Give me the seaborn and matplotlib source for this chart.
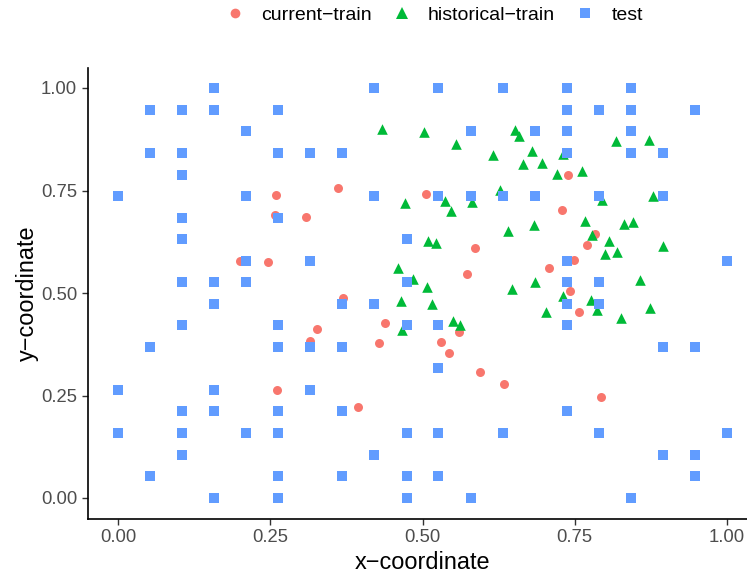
import matplotlib
matplotlib.use("Agg")
import matplotlib.pyplot as plt
from matplotlib.lines import Line2D
import pandas as pd
import seaborn as sns

# test points (regular grid)
test_x = [0.000, 0.000, 0.000,
          0.053, 0.053, 0.053, 0.053,
          0.105, 0.105, 0.105, 0.105, 0.105, 0.105, 0.105, 0.105, 0.105, 0.105,
          0.158, 0.158, 0.158, 0.158, 0.158, 0.158, 0.158,
          0.211, 0.211, 0.211, 0.211, 0.211,
          0.263, 0.263, 0.263, 0.263, 0.263, 0.263, 0.263, 0.263, 0.263,
          0.316, 0.316, 0.316, 0.316,
          0.368, 0.368, 0.368, 0.368, 0.368,
          0.421, 0.421, 0.421, 0.421,
          0.474, 0.474, 0.474, 0.474, 0.474, 0.474,
          0.526, 0.526, 0.526, 0.526, 0.526, 0.526,
          0.579, 0.579, 0.579,
          0.632, 0.632, 0.632,
          0.684, 0.684,
          0.737, 0.737, 0.737, 0.737, 0.737, 0.737, 0.737, 0.737, 0.737,
          0.789, 0.789, 0.789, 0.789, 0.789,
          0.842, 0.842, 0.842, 0.842, 0.842,
          0.895, 0.895, 0.895, 0.895,
          0.947, 0.947, 0.947, 0.947,
          1.000, 1.000]
test_y = [0.737, 0.263, 0.158,
          0.947, 0.842, 0.368, 0.053,
          0.947, 0.842, 0.789, 0.684, 0.632, 0.526, 0.421, 0.211, 0.158, 0.105,
          1.000, 0.947, 0.526, 0.474, 0.263, 0.211, 0.000,
          0.895, 0.737, 0.579, 0.526, 0.158,
          0.947, 0.842, 0.684, 0.421, 0.368, 0.211, 0.158, 0.053, 0.000,
          0.842, 0.579, 0.368, 0.263,
          0.842, 0.474, 0.368, 0.211, 0.053,
          1.000, 0.737, 0.474, 0.105,
          0.632, 0.526, 0.421, 0.158, 0.053, 0.000,
          1.000, 0.737, 0.421, 0.316, 0.158, 0.053,
          0.895, 0.737, 0.000,
          1.000, 0.737, 0.158,
          0.895, 0.737,
          1.000, 0.947, 0.895, 0.842, 0.579, 0.526, 0.474, 0.421, 0.211,
          0.947, 0.737, 0.526, 0.474, 0.158,
          1.000, 0.947, 0.895, 0.842, 0.000,
          0.842, 0.737, 0.368, 0.105,
          0.947, 0.368, 0.105, 0.053,
          0.579, 0.158]

# current training points
cur_x = [0.200, 0.246, 0.259, 0.258, 0.309, 0.361, 0.369, 0.327, 0.315, 0.429,
         0.438, 0.261, 0.394, 0.506, 0.586, 0.573, 0.560, 0.530, 0.544, 0.594,
         0.634, 0.739, 0.729, 0.708, 0.749, 0.742, 0.757, 0.783, 0.770, 0.793]
cur_y = [0.578, 0.576, 0.739, 0.690, 0.685, 0.756, 0.488, 0.412, 0.383, 0.378,
         0.427, 0.263, 0.222, 0.741, 0.610, 0.546, 0.405, 0.380, 0.354, 0.307,
         0.278, 0.788, 0.702, 0.561, 0.580, 0.505, 0.454, 0.644, 0.617, 0.246]

# historical training points
hist_x = [0.433, 0.502, 0.471, 0.555, 0.652, 0.658, 0.616, 0.680, 0.665, 0.696,
          0.721, 0.731, 0.762, 0.627, 0.537, 0.581, 0.547, 0.640, 0.683, 0.818,
          0.872, 0.795, 0.878, 0.767, 0.831, 0.846, 0.778, 0.806, 0.800, 0.819,
          0.895, 0.857, 0.777, 0.787, 0.874, 0.826, 0.509, 0.522, 0.460, 0.484,
          0.465, 0.466, 0.507, 0.516, 0.550, 0.562, 0.647, 0.685, 0.731, 0.703]
hist_y = [0.900, 0.893, 0.720, 0.863, 0.898, 0.883, 0.837, 0.846, 0.815, 0.817,
          0.790, 0.839, 0.798, 0.751, 0.724, 0.722, 0.700, 0.651, 0.666, 0.871,
          0.873, 0.727, 0.737, 0.676, 0.668, 0.673, 0.641, 0.627, 0.595, 0.600,
          0.615, 0.532, 0.483, 0.459, 0.463, 0.439, 0.627, 0.622, 0.561, 0.534,
          0.480, 0.410, 0.515, 0.473, 0.432, 0.422, 0.510, 0.527, 0.493, 0.454]

groups = ["current\u2212train", "historical\u2212train", "test"]
colors = ["#F8766D", "#00BA38", "#619CFF"]
markers = ["o", "^", "s"]

df = pd.concat([
    pd.DataFrame({"x": cur_x, "y": cur_y, "set": groups[0]}),
    pd.DataFrame({"x": hist_x, "y": hist_y, "set": groups[1]}),
    pd.DataFrame({"x": test_x, "y": test_y, "set": groups[2]}),
])

sns.set_style("white")
plt.rcParams["font.family"] = ["Liberation Sans", "DejaVu Sans"]

fig = plt.figure(figsize=(7.47, 5.76), dpi=100)
W, H = 747, 576
ax = fig.add_axes([87.5 / W, 57.5 / H, 670 / W, 451 / H])

sizes = {groups[0]: 42, groups[1]: 58, groups[2]: 44}
for g, c, m in zip(groups, colors, markers):
    sub = df[df["set"] == g]
    sns.scatterplot(data=sub, x="x", y="y", color=c, marker=m, s=sizes[g],
                    linewidth=0, ax=ax, legend=False, zorder=3)

ax.set_xlim(-0.05, 1.05)
ax.set_ylim(-0.05, 1.05)
ticks = [0, 0.25, 0.5, 0.75, 1.0]
ax.set_xticks(ticks)
ax.set_yticks(ticks)
ax.set_xticklabels(["%.2f" % t for t in ticks])
ax.set_yticklabels(["%.2f" % t for t in ticks])
ax.tick_params(axis="both", length=4.5, width=1.0, color="#333333",
               labelcolor="#4D4D4D", labelsize=13.3, pad=3, direction="out",
               bottom=True, left=True)
for side in ["top", "right"]:
    ax.spines[side].set_visible(False)
for side in ["left", "bottom"]:
    ax.spines[side].set_color("black")
    ax.spines[side].set_linewidth(1.2)
ax.grid(False)
ax.set_xlabel("x\u2212coordinate", fontsize=16.9, color="black", labelpad=4)
ax.set_ylabel("y\u2212coordinate", fontsize=16.9, color="black", labelpad=1)

handles = [Line2D([], [], linestyle="none", marker=m, color=c,
                  markersize=7 if m != "^" else 8, markeredgewidth=0)
           for c, m in zip(colors, markers)]
fig.legend(handles, groups, loc="center", bbox_to_anchor=(434 / W, 1 - 15 / H),
           ncol=3, frameon=False, fontsize=14, handlelength=1.0,
           handletextpad=0.85, columnspacing=1.05, labelcolor="black")

fig.savefig("out.png", dpi=100)
